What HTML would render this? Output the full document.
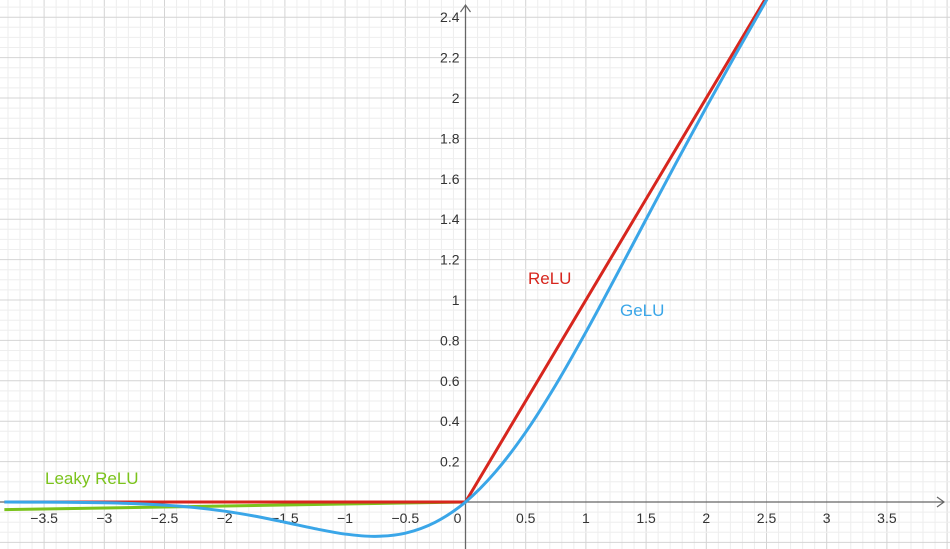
<!DOCTYPE html>
<html><head><meta charset="utf-8"><style>
body{margin:0;background:#fff}
svg{display:block;font-family:"Liberation Sans",Arial,sans-serif}
</style></head><body>
<svg id="chart" width="950" height="549" viewBox="0 0 950 549">
<g id="grid"></g>
<g id="axes"></g>
<g id="curves"></g>
<text x="528" y="284" fill="#d7261e" font-size="17">ReLU</text>
<text x="620" y="316" fill="#3aa6e8" font-size="17">GeLU</text>
<text x="45" y="484" fill="#7bc31c" font-size="17">Leaky ReLU</text>
</svg>
<script>
const xTicks=[-3.5,-3,-2.5,-2,-1.5,-1,-0.5,0,0.5,1,1.5,2,2.5,3,3.5];
const yTicks=[0.2,0.4,0.6,0.8,1,1.2,1.4,1.6,1.8,2,2.2,2.4];
const geluX=[-3.83,-3.5,-3.25,-3,-2.75,-2.5,-2.25,-2,-1.75,-1.5,-1.25,-1,-0.75,-0.5,-0.25,0,0.25,0.5,0.75,1,1.25,1.5,1.75,2,2.25,2.5,2.75];
const geluY=[-0.0002,-0.0008,-0.0019,-0.004,-0.0082,-0.0155,-0.0275,-0.0455,-0.0701,-0.1002,-0.132,-0.1587,-0.17,-0.1543,-0.0999,0,0.1501,0.3457,0.58,0.8413,1.118,1.3998,1.6799,1.9545,2.2225,2.4845,2.7418];
const reluX=[-3.83,0,2.75];
const reluY=[0,0,2.75];
const leakyX=[-3.83,0];
const leakyY=[-0.038,0];

const X0=465.5,SX=120.4,Y0=502,SY=202;
const sx=v=>X0+v*SX, sy=v=>Y0-v*SY;
const NS="http://www.w3.org/2000/svg";
function mk(tag,attrs,parent){const e=document.createElementNS(NS,tag);for(const k in attrs)e.setAttribute(k,attrs[k]);parent.appendChild(e);return e;}
const grid=document.getElementById('grid'),axes=document.getElementById('axes'),curves=document.getElementById('curves');
for(let i=-40;i<=40;i++){const x=sx(i/10);if(x<0||x>950)continue;const major=i%5===0;
 const l=mk('line',{x1:x,x2:x,y1:0,y2:549,stroke:major?'#d4d4d4':'#eeeeee','stroke-width':1},grid);
 
 }
for(let i=-10;i<=60;i++){const y=sy(i/20);if(y<0||y>549)continue;const major=i%4===0;
 const l=mk('line',{x1:0,x2:950,y1:y,y2:y,stroke:major?'#d4d4d4':'#eeeeee','stroke-width':1},grid);
 
 }
let a=mk('line',{x1:0,x2:944,y1:Y0,y2:Y0,stroke:'#666','stroke-width':1.3},axes);

a=mk('path',{d:`M937 ${Y0-5} L944 ${Y0} L937 ${Y0+5}`,fill:'none',stroke:'#666','stroke-width':1.2},axes);

a=mk('line',{x1:X0,x2:X0,y1:5,y2:549,stroke:'#666','stroke-width':1.3},axes);

a=mk('path',{d:`M${X0-5} 12 L${X0} 5 L${X0+5} 12`,fill:'none',stroke:'#666','stroke-width':1.2},axes);

xTicks.forEach(v=>{const t=mk('text',{x:v===0?sx(v)-8:sx(v),y:523,'font-size':14,fill:'#333','text-anchor':'middle'},axes);
 t.textContent=v<0?'\u2212'+Math.abs(v):String(v);
 });
yTicks.forEach(v=>{const t=mk('text',{x:X0-6,y:sy(v)+5,'font-size':14,fill:'#333','text-anchor':'end'},axes);
 t.textContent=String(v);
 });
function smooth(xs,ys){const p=xs.map((x,i)=>[sx(x),sy(ys[i])]);let d=`M${p[0][0]} ${p[0][1]}`;
 for(let i=0;i<p.length-1;i++){const p0=p[i-1]||p[i],p1=p[i],p2=p[i+1],p3=p[i+2]||p2;
  d+=` C${p1[0]+(p2[0]-p0[0])/6} ${p1[1]+(p2[1]-p0[1])/6} ${p2[0]-(p3[0]-p1[0])/6} ${p2[1]-(p3[1]-p1[1])/6} ${p2[0]} ${p2[1]}`;}
 return d;}
function poly(xs,ys){return xs.map((x,i)=>(i?'L':'M')+sx(x)+' '+sy(ys[i])).join(' ');}
let c=mk('path',{d:poly(leakyX,leakyY),fill:'none',stroke:'#7bc31c','stroke-width':3},curves);

c=mk('path',{d:poly(reluX,reluY),fill:'none',stroke:'#d7261e','stroke-width':3},curves);

c=mk('path',{d:smooth(geluX,geluY),fill:'none',stroke:'#3aa6e8','stroke-width':3},curves);

</script>
</body></html>
